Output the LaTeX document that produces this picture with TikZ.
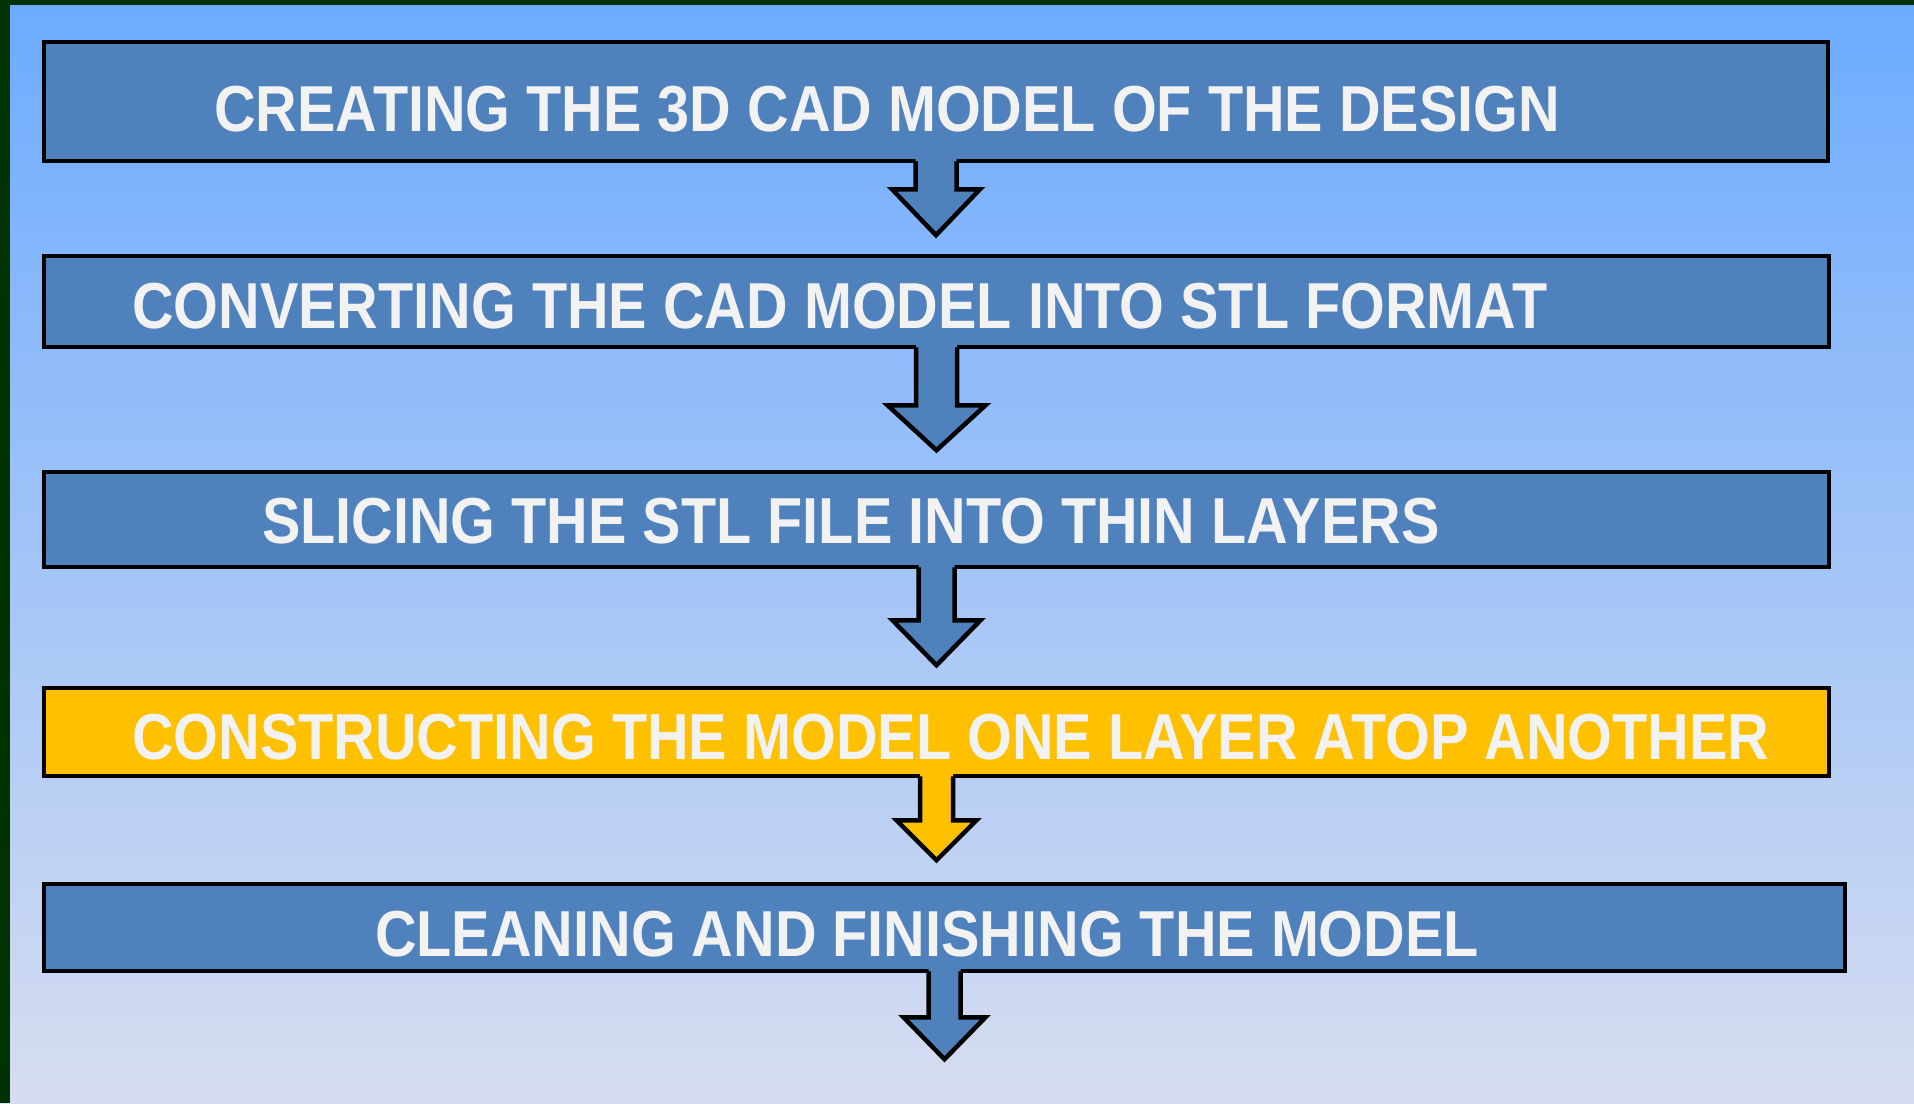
\documentclass[tikz,border=0pt]{standalone}
\usepackage{fontspec}
\setmainfont{Liberation Sans}
\usetikzlibrary{calc}
\definecolor{bgtop}{RGB}{108,171,255}
\definecolor{bgbot}{RGB}{215,221,240}
\definecolor{frame}{RGB}{0,51,0}
\definecolor{boxblue}{RGB}{79,129,189}
\definecolor{boxyellow}{RGB}{255,192,0}
\definecolor{txt}{RGB}{242,242,242}
\newcommand{\squeeze}[1]{\scalebox{0.886}[1]{#1}}
\tikzset{
  stepbox/.style={draw=black, line width=4.5pt, fill=boxblue, rectangle, inner sep=0pt},
  steptext/.style={anchor=west, inner sep=0pt, text=txt, font=\fontsize{65}{70}\selectfont\bfseries},
  arrowline/.style={draw=black, line width=4.5pt, line join=miter}
}
% #1 node, #2 colour, #3 half shaft, #4 half wing, #5 shaft length, #6 head height
\newcommand{\blockarr}[6]{%
  \fill[#2] (#1.south) ++(-#3,-5) -- ++(0,#5+5) -- ++({-(#4-#3)},0) -- ++(#4,#6) -- ++(#4,-#6) -- ++({-(#4-#3)},0) -- ++(0,{-(#5+5)}) -- cycle;
  \draw[arrowline] (#1.south) ++(-#3,-2) -- ++(0,#5+2) -- ++({-(#4-#3)},0) -- ++(#4,#6) -- ++(#4,-#6) -- ++({-(#4-#3)},0) -- ++(0,{-(#5+2)});
}
\begin{document}
\begin{tikzpicture}[x=1pt,y=-1pt]
\useasboundingbox (0,0) rectangle (1914,1103);
\shade[top color=bgtop, bottom color=bgbot] (0,0) rectangle (1914,1103);
\fill[frame] (0,0) rectangle (10,1103);
\fill[frame] (0,0) rectangle (1914,5);

\node[stepbox, minimum width=1784pt, minimum height=119pt] (b1) at (936,101.5) {};
\node[stepbox, minimum width=1785pt, minimum height=91pt] (b2) at (936.5,301.5) {};
\node[stepbox, minimum width=1785pt, minimum height=95pt] (b3) at (936.5,519.5) {};
\node[stepbox, fill=boxyellow, minimum width=1785pt, minimum height=88pt] (b4) at (936.5,732) {};
\node[stepbox, minimum width=1801pt, minimum height=87pt] (b5) at (944.5,927.5) {};

\node[steptext] (t1) at (214,109) {\squeeze{CREATING THE 3D CAD MODEL OF THE DESIGN}};
\node[steptext] (t2) at (132,306) {\squeeze{CONVERTING THE CAD MODEL INTO STL FORMAT}};
\node[steptext] (t3) at (262,521) {\squeeze{SLICING THE STL FILE INTO THIN LAYERS}};
\node[steptext] (t4) at (132,737) {\squeeze{CONSTRUCTING THE MODEL ONE LAYER ATOP ANOTHER}};
\node[steptext] (t5) at (375,934) {\squeeze{CLEANING AND FINISHING THE MODEL}};

\blockarr{b1}{boxblue}{20.5}{44}{26}{46}
\blockarr{b2}{boxblue}{20.5}{49}{56}{45}
\blockarr{b3}{boxblue}{18}{44}{51}{45}
\blockarr{b4}{boxyellow}{16.5}{40}{42}{40}
\blockarr{b5}{boxblue}{16}{41}{44}{42}
\end{tikzpicture}
\end{document}
